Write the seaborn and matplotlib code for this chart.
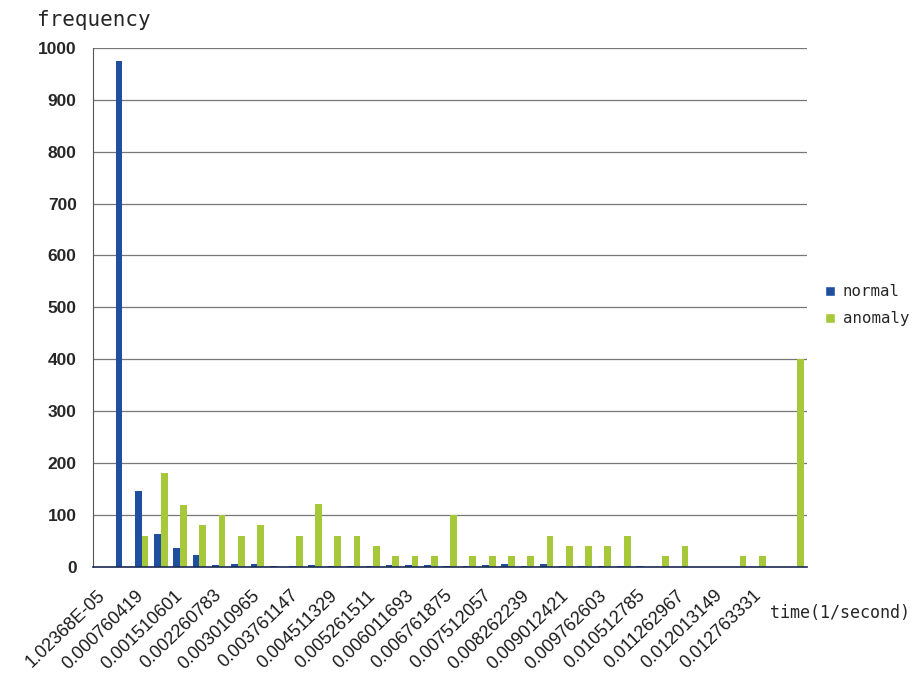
import pandas as pd
import matplotlib.pyplot as plt
import matplotlib.transforms as mtransforms
import seaborn as sns
from matplotlib.patches import Patch

# Histogram of inter-arrival rate, normal vs anomaly (37 bins, every 2nd labelled)
bins = list(range(37))
tick_labels = ['1.02368E-05', '0.000760419', '0.001510601', '0.002260783',
               '0.003010965', '0.003761147', '0.004511329', '0.005261511',
               '0.006011693', '0.006761875', '0.007512057', '0.008262239',
               '0.009012421', '0.009762603', '0.010512785', '0.011262967',
               '0.012013149', '0.012763331']
normal = [0, 975, 145, 63, 35, 22, 3, 6, 6, 2, 2, 3, 2, 1, 1, 3, 3, 3, 1,
          1, 3, 6, 2, 6, 2, 2, 1, 2, 2, 0, 0, 0, 0, 0, 0, 0, 0]
anomaly = [0, 0, 60, 180, 118, 80, 100, 60, 80, 0, 60, 120, 60, 60, 40, 20,
           20, 20, 100, 20, 20, 20, 20, 60, 40, 40, 40, 60, 0, 20, 40, 0, 0,
           20, 20, 0, 400]
series = ['normal', 'anomaly']
colors = ['#1f4f9e', '#a8c83c']

df = pd.DataFrame({
    'bin': bins * 2,
    'frequency': normal + anomaly,
    'series': ['normal'] * len(bins) + ['anomaly'] * len(bins),
})

sns.set_style('white')
plt.rcParams['font.family'] = ['Liberation Sans', 'DejaVu Sans']

fig = plt.figure(figsize=(9.15, 6.77), dpi=100)
ax = fig.add_axes([0.102, 0.163, 0.780, 0.766])

sns.barplot(data=df, x='bin', y='frequency', hue='series', order=bins,
            hue_order=series, palette=colors, saturation=1, width=0.7,
            linewidth=0, ax=ax, legend=False)

ax.set_xlim(-0.5, len(bins) - 0.5)
ax.set_ylim(0, 1000)
ax.set_yticks(range(0, 1001, 100))
ax.yaxis.grid(True, color='#777777', linewidth=0.9)
ax.set_axisbelow(True)
for tl in ax.get_yticklabels():
    tl.set_fontweight('bold')
ax.tick_params(axis='y', length=0, labelsize=12.5, pad=12)

ax.set_xticks(range(0, len(bins) - 1, 2))
ax.set_xticklabels(tick_labels, rotation=44, ha='right', va='center',
                   rotation_mode='anchor', fontsize=13)
shift = mtransforms.ScaledTranslation(-0.12, 0, fig.dpi_scale_trans)
for tl in ax.get_xticklabels():
    tl.set_transform(tl.get_transform() + shift)
    tl.set_color('#1a1a1a')
ax.tick_params(axis='x', length=0, pad=19)
ax.set_xticks([b + 0.5 for b in bins[:-1]], minor=True)
ax.tick_params(axis='x', which='minor', direction='in', length=4,
               color='#999999', width=0.8)
ax.set_xlabel('')
ax.set_ylabel('')

for side in ['top', 'right']:
    ax.spines[side].set_visible(False)
ax.spines['left'].set_color('#555555')
ax.spines['bottom'].set_color('#1a2a55')
ax.spines['bottom'].set_linewidth(1.2)

handles = [Patch(facecolor=c, label=s) for s, c in zip(series, colors)]
fig.legend(handles=handles, loc='center left', bbox_to_anchor=(0.902, 0.549),
           frameon=False, borderaxespad=0, borderpad=0, handlelength=0.6,
           handleheight=0.6, handletextpad=0.5, labelspacing=0.75,
           prop={'family': 'DejaVu Sans Mono', 'size': 11.3})

fig.text(0.040, 0.970, 'frequency', family='DejaVu Sans Mono', fontsize=15,
         va='center', ha='left')
fig.text(0.841, 0.094, 'time(1/second)', family='DejaVu Sans Mono',
         fontsize=12, va='center', ha='left')

fig.savefig('out.png', dpi=100, facecolor='white')
